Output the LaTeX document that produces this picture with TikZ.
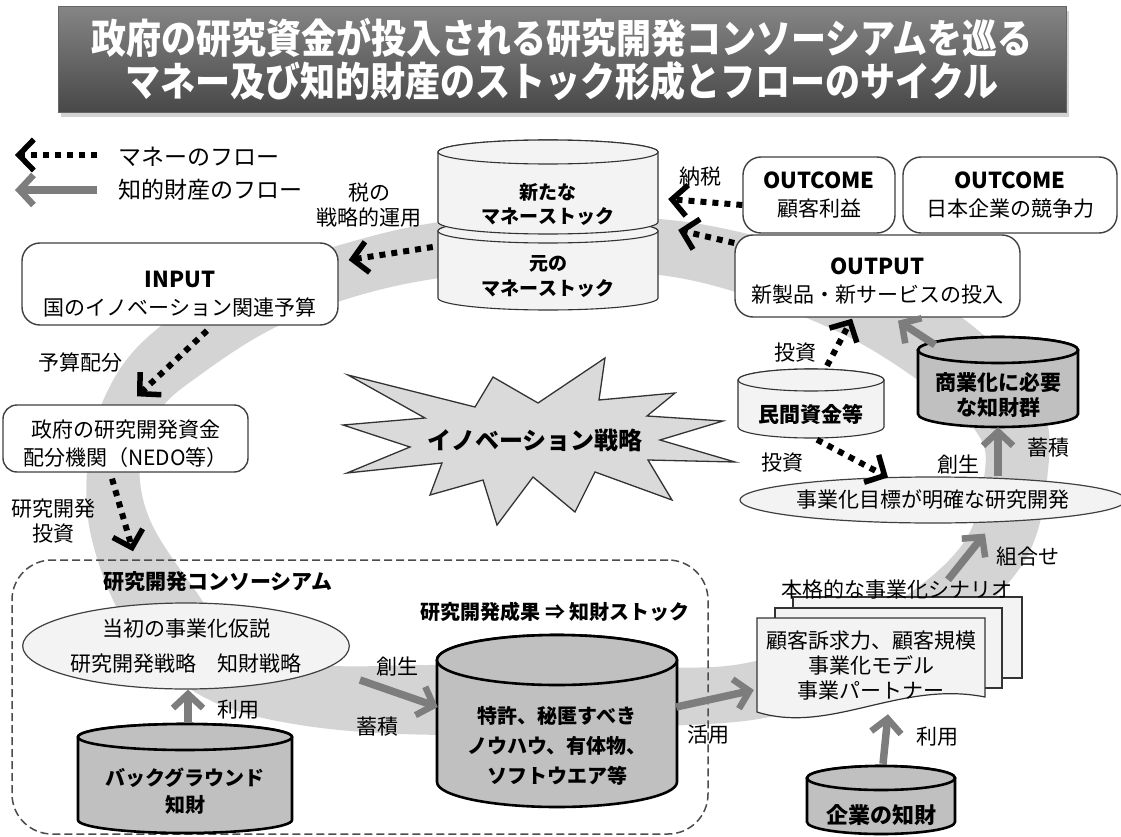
\documentclass[tikz,border=0pt]{standalone}
\usepackage{fontspec}
\usepackage{graphicx}
\setmainfont{Noto Sans CJK JP}
\usetikzlibrary{arrows.meta,shapes.geometric,shadows}

\definecolor{ringc}{RGB}{212,212,212}
\definecolor{ipc}{RGB}{125,125,125}
\definecolor{lightf}{RGB}{243,243,243}
\definecolor{darkf}{RGB}{192,192,192}
\definecolor{burstf}{RGB}{218,218,218}

% #1 name, #2 draw style, #3 cx, #4 top-centre y, #5 bottom-centre y, #6 rx, #7 ry, #8 node options, #9 text
\newcommand\mycyl[9]{%
  \pgfmathsetmacro\cylL{#3-#6}%
  \pgfmathsetmacro\cylR{#3+#6}%
  \pgfmathsetmacro\cylM{-((#4+#5)/2+#7)}%
  \pgfmathsetmacro\cylH{#5-#4}%
  \pgfmathsetmacro\cylW{2*#6}%
  \path[#2] (\cylL,-#4) -- (\cylL,-#5) arc[start angle=180,end angle=360,x radius=#6,y radius=#7] -- (\cylR,-#4) arc[start angle=0,end angle=180,x radius=#6,y radius=#7] -- cycle;
  \path[#2] (#3,-#4) ellipse[x radius=#6,y radius=#7];
  \node[inner sep=0pt, minimum width=\cylW pt, minimum height=\cylH pt, align=center, #8] (#1) at (#3,\cylM) {#9};
}

\tikzset{
  money/.style={line width=6pt, dash pattern=on 6pt off 6pt, -{Straight Barb[length=15pt,width=31pt,line width=5.5pt]}},
  ipflow/.style={line width=7.5pt, color=ipc, -{Straight Barb[length=14pt,width=30pt,line width=6.5pt]}},
  lbl/.style={inner sep=0pt, align=center, font=\fontsize{21}{25}\selectfont},
  lgd/.style={inner sep=0pt, anchor=west, font=\fontsize{23}{27}\selectfont},
  rbox/.style={draw=black!75, line width=1.4pt, fill=white, rounded corners=18pt, align=center, inner sep=0pt, font=\fontsize{21}{28}\selectfont},
  ell/.style={ellipse, draw=black!75, line width=1.2pt, fill=lightf, inner sep=0pt, align=center, font=\fontsize{21}{35}\selectfont},
  lightcyl/.style={draw=black!80, line width=1.1pt, fill=lightf},
  darkcyl/.style={draw=black, line width=2.6pt, fill=darkf},
  sheet/.style={draw=black!80, line width=1.2pt, fill=lightf},
  burst/.style={draw=black!80, line width=1.3pt, fill=burstf, line join=miter},
  consbox/.style={draw=black!70, line width=1.5pt, dash pattern=on 8pt off 4pt, rounded corners=40pt, inner sep=0pt},
  titlebox/.style={draw=black!60, line width=1pt, top color=black!48, bottom color=black!72, text=white, align=center, inner sep=0pt,
    font=\fontsize{35}{43}\selectfont\bfseries, drop shadow={shadow xshift=3pt, shadow yshift=-4pt, opacity=0.35}},
}

\begin{document}
\begin{tikzpicture}[x=1pt,y=1pt]
\useasboundingbox (0,0) rectangle (1121,-837);
\fill[white] (0,0) rectangle (1121,-837);

% background ring
\fill[ringc, even odd rule]
  plot[smooth cycle, tension=0.6] coordinates {(550,-216) (700,-224) (860,-268) (965,-320) (1038,-400) (1048,-470) (1022,-565) (930,-648) (790,-712) (650,-727) (450,-735) (300,-725) (200,-695) (130,-630) (92,-540) (88,-460) (108,-390) (150,-335) (230,-283) (340,-245) (440,-222)}
  plot[smooth cycle, tension=0.6] coordinates {(550,-270) (690,-280) (830,-328) (925,-385) (975,-430) (985,-470) (962,-545) (880,-612) (760,-660) (650,-668) (450,-665) (320,-665) (240,-645) (195,-590) (150,-520) (140,-460) (160,-410) (200,-375) (270,-330) (350,-298) (440,-278)};

% title
\node[titlebox, minimum width=1008pt, minimum height=106pt] (title) at (562,-60)
  {\scalebox{1}[1.15]{政府の研究資金が投入される研究開発コンソーシアムを巡る}\\
   \scalebox{1}[1.15]{マネー及び知的財産のストック形成とフローのサイクル}};

% legend
\node[lgd] (lgm) at (118,-157) {マネーのフロー};
\node[lgd] (lgi) at (118,-190) {知的財産のフロー};
\draw[money] ([xshift=-21pt,yshift=2pt]lgm.west) -- ++(-82,0);
\draw[ipflow] ([xshift=-21pt,yshift=0pt]lgi.west) -- ++(-82,0);

% burst
\draw[burst] (348,-375) -- (475,-407) -- (493,-377) -- (538,-403) -- (605,-358) -- (599,-400) -- (675,-393) -- (647,-416) -- (723,-421) -- (660,-440) -- (735,-462) -- (648,-460) -- (672,-500) -- (595,-472) -- (575,-512) -- (533,-477) -- (497,-525) -- (483,-480) -- (430,-495) -- (442,-463) -- (347,-473) -- (410,-447) -- (343,-425) -- (425,-418) -- cycle;
\node[inner sep=0pt, font=\fontsize{24}{28}\selectfont\bfseries] (strategy) at (535,-440) {イノベーション戦略};

% consortium frame
\node[consbox, minimum width=696pt, minimum height=274pt] (cons) at (360,-697) {};
\node[inner sep=0pt, anchor=west, font=\fontsize{21}{25}\selectfont\bfseries] (consl) at (103,-582) {研究開発コンソーシアム};
\node[inner sep=0pt, font=\fontsize{20}{24}\selectfont\bfseries] (resl) at (555,-612) {研究開発成果 ⇒ 知財ストック};

% money stock cylinders
\mycyl{oldm}{lightcyl}{548}{231}{298}{110}{12}{font=\fontsize{19}{25}\selectfont\bfseries}{元の\\マネーストック}
\mycyl{newm}{lightcyl}{548}{152}{222}{110}{12}{font=\fontsize{19}{24}\selectfont\bfseries}{\rule{0pt}{26pt}新たな\\マネーストック}

% boxes
\node[rbox, minimum width=152pt, minimum height=76pt] (oc1) at (819,-195) {{\fontsize{22}{27}\selectfont\bfseries OUTCOME}\\顧客利益};
\node[rbox, minimum width=214pt, minimum height=76pt] (oc2) at (1010,-195) {{\fontsize{22}{27}\selectfont\bfseries OUTCOME}\\日本企業の競争力};
\node[rbox, minimum width=285pt, minimum height=82pt] (output) at (877.5,-276) {{\fontsize{22}{27}\selectfont\bfseries\rule{0pt}{26pt}OUTPUT}\\新製品・新サービスの投入};
\node[rbox, minimum width=316pt, minimum height=82pt] (input) at (180,-284) {{\fontsize{22}{29}\selectfont\bfseries\rule{0pt}{36pt}INPUT}\\国のイノベーション関連予算};
\node[rbox, rounded corners=14pt, minimum width=245pt, minimum height=67pt] (gov) at (125.5,-438.5) {\rule{0pt}{28pt}政府の研究開発資金\\配分機関（NEDO等）};

% consortium contents
\node[ell, minimum width=296pt, minimum height=86pt] (hyp) at (186,-646) {当初の事業化仮説\\研究開発戦略　知財戦略};
\mycyl{bgc}{darkcyl}{185}{737}{820}{107}{13}{font=\fontsize{20}{27}\selectfont\bfseries}{バックグラウンド\\知財}
\mycyl{ipst}{darkcyl}{557}{660}{782}{120}{25}{font=\fontsize{20}{30}\selectfont\bfseries}{特許、秘匿すべき\\ノウハウ、有体物、\\ソフトウエア等}

% scenario document stack
\draw[sheet] (793,-597) rectangle (1022,-678);
\draw[sheet] (775,-608) rectangle (1002,-688);
\path[sheet] (757,-618) -- (985,-618) -- (985,-697) .. controls (900,-680) and (830,-735) .. (757,-712) -- cycle;
\node[inner sep=0pt, minimum width=228pt, minimum height=95pt, align=center, font=\fontsize{21}{25}\selectfont] (doc) at (871,-665.5) {顧客訴求力、顧客規模\\事業化モデル\\事業パートナー};
\node[lbl] (scen) at (897,-590) {本格的な事業化シナリオ};
\mycyl{corp}{darkcyl}{881}{778}{822}{74}{12}{font=\fontsize{22}{26}\selectfont\bfseries}{\rule{0pt}{26pt}企業の知財}

% right side
\node[ell, minimum width=374pt, minimum height=46pt] (rnd) at (933,-500) {事業化目標が明確な研究開発};
\mycyl{comm}{darkcyl}{998}{350}{414}{80}{13}{font=\fontsize{21}{25}\selectfont\bfseries}{商業化に必要\\な知財群}
\mycyl{priv}{lightcyl}{811}{380}{427}{73}{11}{font=\fontsize{21}{25}\selectfont\bfseries}{民間資金等}

% labels
\node[lbl] (zei) at (369,-205) {税の\\戦略的運用};
\node[lbl] (nozei) at (700,-177) {納税};
\node[lbl] (yosan) at (80,-363) {予算配分};
\node[lbl] (rdinv) at (53,-521) {研究開発\\投資};
\node[lbl] (riyo1) at (238,-710) {利用};
\node[lbl] (sosei1) at (397,-667) {創生};
\node[lbl] (chiku1) at (377,-727) {蓄積};
\node[lbl] (katsu) at (708,-735) {活用};
\node[lbl] (riyo2) at (937,-737) {利用};
\node[lbl] (kumi) at (1028,-557) {組合せ};
\node[lbl] (sosei2) at (958,-465) {創生};
\node[lbl] (chiku2) at (1048,-448) {蓄積};
\node[lbl] (toshi1) at (795,-353) {投資};
\node[lbl] (toshi2) at (782,-463) {投資};

% money flows
\draw[money] ([yshift=-10pt]oc1.west) -- ([xshift=10pt]newm.east);
\draw[money] ([yshift=33pt]output.west) -- ([xshift=20pt,yshift=-31pt]newm.east);
\draw[money] ([xshift=-5pt,yshift=29.5pt]oldm.west) -- ([xshift=10pt,yshift=24pt]input.east);
\draw[money] ([xshift=27pt,yshift=-5pt]input.south) -- ([xshift=11.5pt,yshift=8pt]gov.north);
\draw[money] ([xshift=-13.5pt,yshift=-6pt]gov.south) -- ([xshift=-227pt,yshift=8pt]cons.north);
\draw[money] ([xshift=16pt,yshift=25pt]priv.north) -- ([xshift=-25.5pt,yshift=-1pt]output.south);
\draw[money] ([xshift=6pt,yshift=-1.5pt]priv.south) -- ([xshift=-45pt,yshift=-1pt]rnd.north);

% intellectual property flows
\draw[ipflow] ([xshift=3pt,yshift=27pt]bgc.north) -- ([xshift=2pt]hyp.south);
\draw[ipflow] ([xshift=10pt,yshift=-34pt]hyp.east) -- ([xshift=1pt,yshift=39pt]ipst.west);
\draw[ipflow] ([xshift=-1pt,yshift=39pt]ipst.east) -- ([xshift=-3pt,yshift=-24.5pt]doc.west);
\draw[ipflow] ([xshift=2pt,yshift=26pt]corp.north) -- ([xshift=17pt,yshift=-1pt]doc.south);
\draw[ipflow] ([xshift=77pt,yshift=38pt]doc.north) -- ([xshift=52pt,yshift=-10pt]rnd.south);
\draw[ipflow] ([xshift=65pt]rnd.north) -- (comm.south);
\draw[ipflow] ([xshift=-63pt,yshift=18pt]comm.north) -- ([xshift=20.5pt,yshift=-3pt]output.south);
\end{tikzpicture}
\end{document}
